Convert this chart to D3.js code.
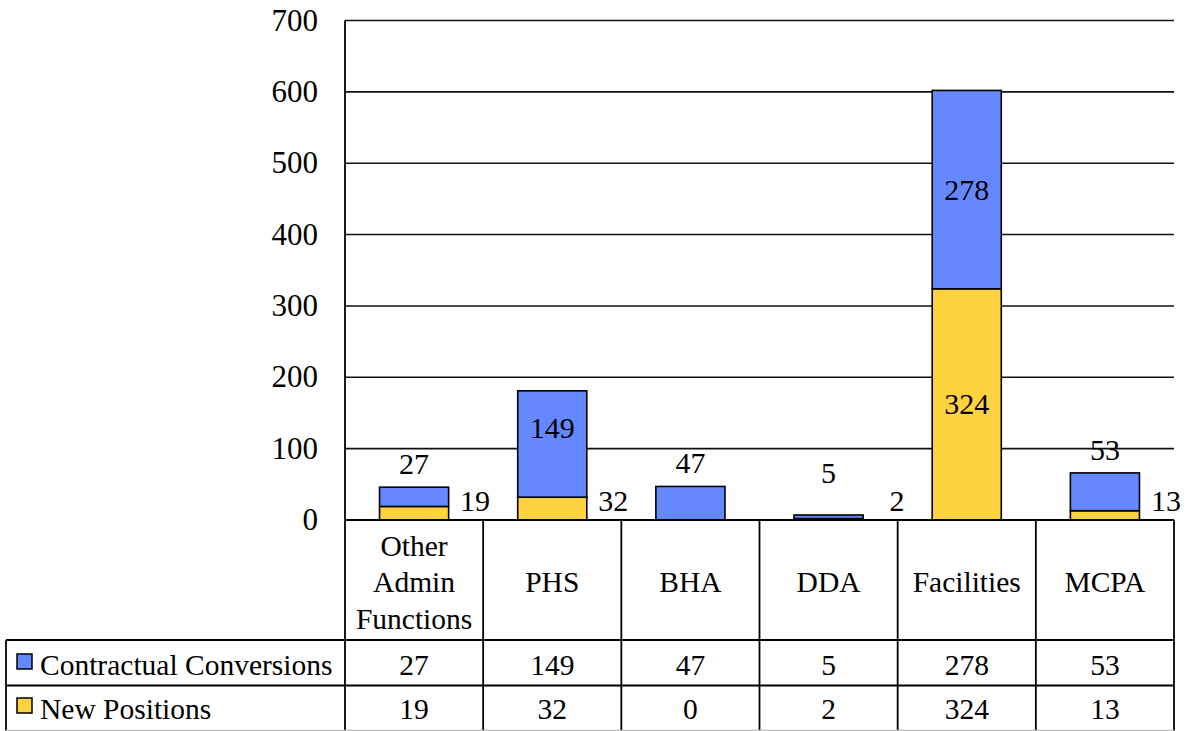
<!DOCTYPE html>
<html>
<head>
<meta charset="utf-8">
<script src="https://cdn.jsdelivr.net/npm/d3@7"></script>
<style>
  html, body { margin: 0; padding: 0; background: #fff; }
  svg text { font-family: "Times New Roman", "Liberation Serif", Tinos, "DejaVu Serif", serif; }
</style>
</head>
<body>
<svg id="chart" width="1196" height="731"></svg>
<script>
// Staffing by function: contractual conversions stacked on new positions
const categories = ["Other Admin Functions", "PHS", "BHA", "DDA", "Facilities", "MCPA"];
const categoryLines = [["Other", "Admin", "Functions"], ["PHS"], ["BHA"], ["DDA"], ["Facilities"], ["MCPA"]];
const contractualConversions = [27, 149, 47, 5, 278, 53];
const newPositions = [19, 32, 0, 2, 324, 13];
const seriesNames = ["Contractual Conversions", "New Positions"];
const yTicks = [0, 100, 200, 300, 400, 500, 600, 700];

const BLUE = "#6688FF";
const YELLOW = "#FFD23F";
const FONT = "'Times New Roman', 'Liberation Serif', Tinos, 'DejaVu Serif', serif";

const svg = d3.select("#chart").attr("font-family", FONT);
const plotLeft = 345, plotRight = 1174, plotTop = 20.5, plotBottom = 520;
const tableLeft = 6, rowCat = 640, rowSeries1 = 685.5, rowSeries2 = 730.5;

const x = d3.scaleBand().domain(categories).range([plotLeft, plotRight]).paddingInner(0).paddingOuter(0);
const y = d3.scaleLinear().domain([0, 700]).range([plotBottom, plotTop]);
const barW = x.bandwidth() * 0.5;

// Gridlines
svg.append("g").selectAll("line").data(yTicks.filter(d => d > 0)).join("line")
  .attr("x1", plotLeft).attr("x2", plotRight)
  .attr("y1", d => y(d)).attr("y2", d => y(d))
  .attr("stroke", "#111").attr("stroke-width", 1.6);

// Y axis tick labels
svg.append("g").selectAll("text").data(yTicks).join("text")
  .attr("x", 318).attr("y", d => y(d) + 10)
  .attr("text-anchor", "end").attr("font-size", 31).attr("fill", "#000")
  .text(d => d);

// Stacked data
const rows = categories.map((c, i) => ({ cat: c, cc: contractualConversions[i], np: newPositions[i] }));
const stack = d3.stack().keys(["np", "cc"])(rows);
const colors = { np: YELLOW, cc: BLUE };

const barsG = svg.append("g");
stack.forEach(layer => {
  barsG.selectAll(null).data(layer).join("rect")
    .attr("x", d => x(d.data.cat) + (x.bandwidth() - barW) / 2)
    .attr("width", barW)
    .attr("y", d => y(d[1]))
    .attr("height", d => Math.max(0, y(d[0]) - y(d[1])))
    .attr("fill", colors[layer.key])
    .attr("stroke", d => (d[1] - d[0]) > 0 ? "#000" : "none")
    .attr("stroke-width", 1.6);
});

// Value labels: inside tall segments, otherwise above (top series) or beside (bottom series)
const labelsG = svg.append("g").attr("font-size", 30).attr("fill", "#000");
stack.forEach(layer => {
  layer.forEach(d => {
    const v = d[1] - d[0];
    if (v <= 0) return;
    const cx = x(d.data.cat) + x.bandwidth() / 2;
    const segH = y(d[0]) - y(d[1]);
    if (segH > 60) {
      labelsG.append("text").attr("x", cx)
        .attr("y", Math.min((y(d[0]) + y(d[1])) / 2 + 10, plotBottom - 82))
        .attr("text-anchor", "middle").text(v);
    } else if (layer.key === "cc") {
      labelsG.append("text").attr("x", cx)
        .attr("y", Math.min(y(d[1]) - 13, plotBottom - 37))
        .attr("text-anchor", "middle").text(v);
    } else {
      labelsG.append("text").attr("x", cx + 76).attr("y", plotBottom - 9)
        .attr("text-anchor", "end").text(v);
    }
  });
});

// Axis lines
svg.append("line").attr("x1", plotLeft).attr("x2", plotLeft).attr("y1", plotTop).attr("y2", rowSeries2)
  .attr("stroke", "#000").attr("stroke-width", 1.8);
svg.append("line").attr("x1", plotLeft).attr("x2", plotRight).attr("y1", plotBottom).attr("y2", plotBottom)
  .attr("stroke", "#000").attr("stroke-width", 1.8);

// Data table
const tableG = svg.append("g").attr("stroke", "#000").attr("stroke-width", 1.8);
categories.forEach(c => {
  tableG.append("line").attr("x1", x(c) + x.bandwidth()).attr("x2", x(c) + x.bandwidth())
    .attr("y1", plotBottom).attr("y2", rowSeries2);
});
[rowCat, rowSeries1].forEach(ry => {
  tableG.append("line").attr("x1", tableLeft).attr("x2", plotRight).attr("y1", ry).attr("y2", ry);
});
tableG.append("line").attr("x1", tableLeft).attr("x2", tableLeft).attr("y1", rowCat).attr("y2", rowSeries2);
svg.append("line").attr("x1", tableLeft).attr("x2", plotRight).attr("y1", rowSeries2).attr("y2", rowSeries2)
  .attr("stroke", "#bbb").attr("stroke-width", 1.5);

// Category names
const catG = svg.append("g").attr("font-size", 29.5).attr("fill", "#000").attr("text-anchor", "middle");
categories.forEach((c, i) => {
  const lines = categoryLines[i];
  const cx = x(c) + x.bandwidth() / 2;
  const mid = 592;
  lines.forEach((ln, j) => {
    catG.append("text").attr("x", cx).attr("y", mid + (j - (lines.length - 1) / 2) * 36.5).text(ln);
  });
});

// Series rows
const seriesVals = [contractualConversions, newPositions];
const seriesColors = [BLUE, YELLOW];
const rowBaselines = [675, 719];
seriesNames.forEach((name, k) => {
  svg.append("rect").attr("x", 17).attr("y", rowBaselines[k] - 21).attr("width", 15).attr("height", 15)
    .attr("fill", seriesColors[k]).attr("stroke", "#000").attr("stroke-width", 1.5);
  svg.append("text").attr("x", 40).attr("y", rowBaselines[k])
    .attr("font-size", 29.5).attr("fill", "#000").text(name);
  categories.forEach((c, i) => {
    svg.append("text").attr("x", x(c) + x.bandwidth() / 2).attr("y", rowBaselines[k])
      .attr("text-anchor", "middle").attr("font-size", 29.5).attr("fill", "#000")
      .text(seriesVals[k][i]);
  });
});
</script>
</body>
</html>
